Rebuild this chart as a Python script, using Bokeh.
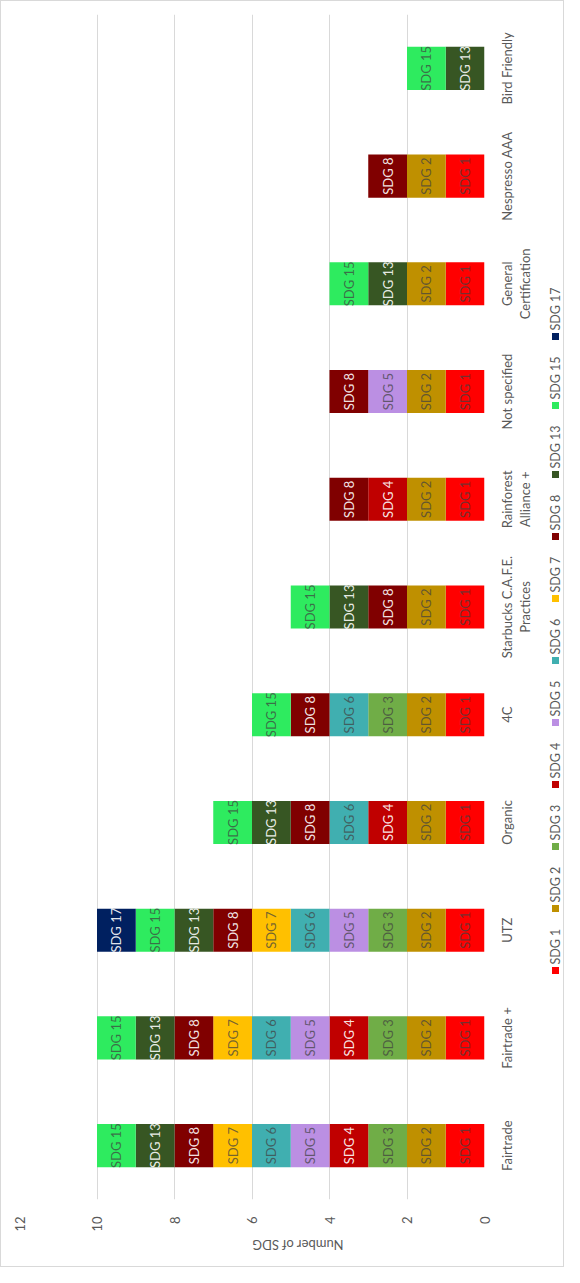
import math
from bokeh.plotting import figure
from bokeh.models import Range1d, FactorRange, ColumnDataSource, FixedTicker
from bokeh.layouts import row
from bokeh.embed import file_html
from bokeh.resources import INLINE
from bokeh.core.properties import value

# ---------------- data ----------------
categories = ["Fairtrade", "Fairtrade +", "UTZ", "Organic", "4C",
              "Starbucks C.A.F.E.\nPractices", "Rainforest\nAlliance +",
              "Not specified", "General\nCertification", "Nespresso AAA",
              "Bird Friendly"]
series = ["SDG 1", "SDG 2", "SDG 3", "SDG 4", "SDG 5", "SDG 6", "SDG 7",
          "SDG 8", "SDG 13", "SDG 15", "SDG 17"]
sdg1 = [1, 1, 1, 1, 1, 1, 1, 1, 1, 1, 0]
sdg2 = [1, 1, 1, 1, 1, 1, 1, 1, 1, 1, 0]
sdg3 = [1, 1, 1, 0, 1, 0, 0, 0, 0, 0, 0]
sdg4 = [1, 1, 0, 1, 0, 0, 1, 0, 0, 0, 0]
sdg5 = [1, 1, 1, 0, 0, 0, 0, 1, 0, 0, 0]
sdg6 = [1, 1, 1, 1, 1, 0, 0, 0, 0, 0, 0]
sdg7 = [1, 1, 1, 0, 0, 0, 0, 0, 0, 0, 0]
sdg8 = [1, 1, 1, 1, 1, 1, 1, 1, 0, 1, 0]
sdg13 = [1, 1, 1, 1, 0, 1, 0, 0, 1, 0, 1]
sdg15 = [1, 1, 1, 1, 1, 1, 0, 0, 1, 0, 1]
sdg17 = [0, 0, 1, 0, 0, 0, 0, 0, 0, 0, 0]
values = [sdg1, sdg2, sdg3, sdg4, sdg5, sdg6, sdg7, sdg8, sdg13, sdg15, sdg17]
value_ticks = [0, 2, 4, 6, 8, 10, 12]
axis_title = "Number of SDG"

colors = ["#FF0000", "#BF9000", "#70AD47", "#C00000", "#BB8FE3", "#40AFB0",
          "#FFC000", "#800000", "#375623", "#2EEB5F", "#002060"]
label_dark = ["#404040", "#404040", "#404040", "#FFFFFF", "#404040", "#404040",
              "#404040", "#FFFFFF", "#FFFFFF", "#404040", "#FFFFFF"]

FONT = "Lato"
GRAY = "#595959"
H = 1265
TOP, BOTTOM = 13, 67
FRAME_H = H - TOP - BOTTOM
W_MAIN = 491
RIGHT_PAD = 8
W_SIDE = 71

# ---------------- main chart ----------------
p = figure(y_range=FactorRange(factors=categories), x_range=Range1d(12, 0),
           width=W_MAIN, height=H, output_backend="svg", toolbar_location=None,
           y_axis_location=None,
           min_border_left=18, min_border_right=RIGHT_PAD, min_border_top=TOP,
           min_border_bottom=BOTTOM)

src = ColumnDataSource(dict(cat=categories, **{s: v for s, v in zip(series, values)}))
p.hbar_stack(series, y="cat", height=0.4, fill_color=colors, line_color=None,
             source=src)

lx, ly, lt, lc, la = [], [], [], [], []
for i, c in enumerate(categories):
    cum = 0
    for j, (s, arr) in enumerate(zip(series, values)):
        v = arr[i]
        if v:
            lx.append(cum + v / 2)
            ly.append(c)
            lt.append(s)
            lc.append(label_dark[j])
            la.append(0.9 if label_dark[j] == "#FFFFFF" else 0.72)
        cum += v
lsrc = ColumnDataSource(dict(x=lx, y=ly, t=lt, c=lc, a=la))
p.text(x="x", y="y", text="t", angle=math.pi / 2, text_align="center",
       text_baseline="middle", text_font=value(FONT), text_font_size="13px",
       text_color="c", text_alpha="a", source=lsrc)

p.outline_line_color = None
p.xaxis.ticker = FixedTicker(ticks=value_ticks)
p.xgrid.ticker = FixedTicker(ticks=value_ticks)
p.xgrid.grid_line_color = "#d9d9d9"
p.ygrid.grid_line_color = None
p.xaxis.axis_line_color = None
p.xaxis.major_tick_line_color = None
p.xaxis.minor_tick_line_color = None
p.xaxis.major_label_orientation = math.pi / 2
p.xaxis.major_label_standoff = 11
p.xaxis.major_label_text_font = FONT
p.xaxis.major_label_text_font_size = "13px"
p.xaxis.major_label_text_color = GRAY
p.xaxis.axis_label = axis_title
p.xaxis.axis_label_text_font = FONT
p.xaxis.axis_label_text_font_size = "13px"
p.xaxis.axis_label_text_font_style = "normal"
p.xaxis.axis_label_text_color = GRAY
p.xaxis.axis_label_standoff = 10
try:
    p.xaxis.axis_label_orientation = math.pi
except Exception:
    pass

# ---------------- side panel: category labels + rotated legend ----------------
n = len(categories)
unit = FRAME_H / n  # pixels per category slot
side = figure(width=W_SIDE, height=H, y_range=Range1d(0, n), x_range=Range1d(0, W_SIDE),
              output_backend="svg", toolbar_location=None,
              x_axis_location=None, y_axis_location=None,
              min_border_left=0, min_border_right=0, min_border_top=TOP,
              min_border_bottom=BOTTOM)
side.outline_line_color = None
side.grid.visible = False

# category labels (read bottom-to-top), one per category slot
cy = [i + 0.5 for i in range(n)]
side.text(x=[14 - RIGHT_PAD] * n, y=cy, text=categories,
          angle=math.pi / 2, text_align="center", text_baseline="top",
          text_font=value(FONT), text_font_size="13px", text_color=GRAY,
          text_line_height=1.15)

# legend entries
mx, my = [], []
ycur = 229
for s in series:
    mx.append(71 - RIGHT_PAD)
    my.append(ycur / unit)
    ycur += 62 + 7 * (len(s) - 5)
side.scatter(x=mx, y=my, marker="square", size=7, fill_color=colors,
             line_color=None)
side.text(x=mx, y=[v + 6 / unit for v in my], text=series, angle=math.pi / 2,
          text_align="left", text_baseline="middle", text_font=value(FONT),
          text_font_size="12.5px", text_color=GRAY)

layout = row(p, side, styles={"border": "1px solid #d9d9d9"})
open("out.html", "w").write(file_html(layout, INLINE))
